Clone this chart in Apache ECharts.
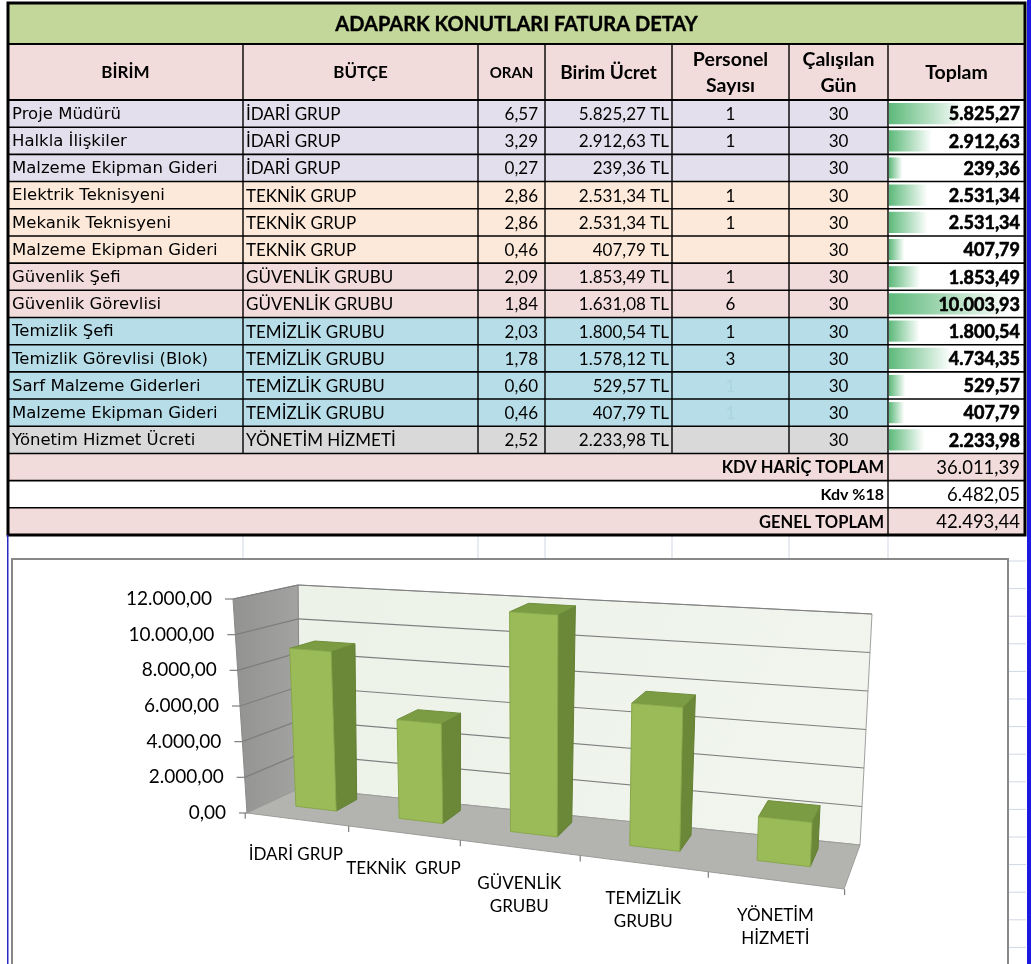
<!DOCTYPE html>
<html>
<head>
<meta charset="utf-8">
<script src="https://cdn.jsdelivr.net/npm/echarts@6.0.0/dist/echarts.min.js"></script>
<style>
html, body { margin: 0; padding: 0; background: #fff; }
#grafik { width: 1032px; height: 964px; }
</style>
</head>
<body>
<div id="grafik"></div>
<script>
// ---- tablo verisi ----
var baslik = 'ADAPARK KONUTLARI FATURA DETAY';
var sutunBasliklari = ['BİRİM', 'BÜTÇE', 'ORAN', 'Birim Ücret', 'Personel\nSayısı', 'Çalışılan\nGün', 'Toplam'];
var birimler = ['Proje Müdürü', 'Halkla İlişkiler', 'Malzeme Ekipman Gideri', 'Elektrik Teknisyeni', 'Mekanik Teknisyeni',
    'Malzeme Ekipman Gideri', 'Güvenlik Şefi', 'Güvenlik Görevlisi', 'Temizlik Şefi', 'Temizlik Görevlisi (Blok)',
    'Sarf Malzeme Giderleri', 'Malzeme Ekipman Gideri', 'Yönetim Hizmet Ücreti'];
var butceler = ['İDARİ GRUP', 'İDARİ GRUP', 'İDARİ GRUP', 'TEKNİK GRUP', 'TEKNİK GRUP', 'TEKNİK GRUP',
    'GÜVENLİK GRUBU', 'GÜVENLİK GRUBU', 'TEMİZLİK GRUBU', 'TEMİZLİK GRUBU', 'TEMİZLİK GRUBU', 'TEMİZLİK GRUBU', 'YÖNETİM HİZMETİ'];
var oranlar = [6.57, 3.29, 0.27, 2.86, 2.86, 0.46, 2.09, 1.84, 2.03, 1.78, 0.60, 0.46, 2.52];
var birimUcretler = [5825.27, 2912.63, 239.36, 2531.34, 2531.34, 407.79, 1853.49, 1631.08, 1800.54, 1578.12, 529.57, 407.79, 2233.98];
var personelSayilari = [1, 1, null, 1, 1, null, 1, 6, 1, 3, 1, 1, null];
var calisilanGunler = [30, 30, 30, 30, 30, 30, 30, 30, 30, 30, 30, 30, 30];
var toplamlar = [5825.27, 2912.63, 239.36, 2531.34, 2531.34, 407.79, 1853.49, 10003.93, 1800.54, 4734.35, 529.57, 407.79, 2233.98];
var ozetEtiketleri = ['KDV HARİÇ TOPLAM', 'Kdv %18', 'GENEL TOPLAM'];
var ozetDegerleri = [36011.39, 6482.05, 42493.44];

// ---- grafik verisi ----
var grupAdlari = ['İDARİ GRUP', 'TEKNİK  GRUP', 'GÜVENLİK\nGRUBU', 'TEMİZLİK\nGRUBU', 'YÖNETİM\nHİZMETİ'];
var grupToplamlari = [8977.26, 5470.47, 11857.42, 7472.25, 2233.98];
var eksenDegerleri = [0, 2000, 4000, 6000, 8000, 10000, 12000];
var eksenEtiketleri = ['0,00', '2.000,00', '4.000,00', '6.000,00', '8.000,00', '10.000,00', '12.000,00'];

// ---- yerlesim / stil ----
var TSOL = 8, TUST = 3, TGEN = 1017, BASLIK_ALT = 44, SATIR_UST = 100, TALT = 535;
var SUTUN = [0, 235, 470, 537, 664, 781, 880, 1017];
var grupRenkleri = {
    'İDARİ GRUP': '#E4DFEC', 'TEKNİK GRUP': '#FDE9D9', 'GÜVENLİK GRUBU': '#F2DCDB',
    'TEMİZLİK GRUBU': '#B7DEE8', 'YÖNETİM HİZMETİ': '#D9D9D9'
};
var ozetRenkleri = ['#F2DCDB', '#FFFFFF', '#F2DCDB'];
var ozetFontlari = ['bold 16.5px Lato', 'bold 16px Lato', 'bold 16.5px Lato'];
var baslikFontlari = ['bold 17px Lato', 'bold 17px Lato', 'bold 15px Lato', 'bold 19px Lato', 'bold 19.5px Lato', 'bold 19.5px Lato', 'bold 19.5px Lato'];
var solukSatirlar = [10, 11];
var SAYI_FONT = '17px Lato';

// 3B kutunun ekran kosleri (on/arka, alt/ust, sol/sag)
var KOSE = {
    fbl: [247, 813], ftl: [233, 599], fbr: [844, 889], ftr: [854, 643],
    bbl: [300, 788], btl: [298, 585], bbr: [860, 845], btr: [872, 614]
};
var KOLON_ON = 0.40, KOLON_ARKA = 0.82;

function tr(n) {
    var s = n.toFixed(2).split('.');
    s[0] = s[0].replace(/\B(?=(\d{3})+(?!\d))/g, '.');
    return s[0] + ',' + s[1];
}
function lerp(a, b, t) { return [a[0] + (b[0] - a[0]) * t, a[1] + (b[1] - a[1]) * t]; }
function proj(u, v, w) {
    var f = lerp(lerp(KOSE.fbl, KOSE.fbr, u), lerp(KOSE.ftl, KOSE.ftr, u), v);
    var b = lerp(lerp(KOSE.bbl, KOSE.bbr, u), lerp(KOSE.btl, KOSE.btr, u), v);
    return lerp(f, b, w);
}
// perspektif: saga dogru aciliyor
function egri(t) { return -0.003 + 0.832 * t + 0.172 * t * t; }

var n = birimler.length;
var satirlar = [];
for (var i = 0; i < n + ozetEtiketleri.length; i++) satirlar.push([0, i]);

var vmin = Math.min.apply(null, toplamlar), vmax = Math.max.apply(null, toplamlar);
var cubukMin = vmin - 0.125 * (vmax - vmin), cubukMax = vmax + 0.125 * (vmax - vmin);
var cubukRenk = new echarts.graphic.LinearGradient(0, 0, 1, 0, [
    { offset: 0, color: '#5DB97A' }, { offset: 1, color: '#FFFFFF' }
]);

function satirKutusu(api, i) {
    var c = api.coord([0, i]);
    var h = api.size([0, 1])[1];
    return { ust: c[1] - h / 2, h: h };
}
function sutunX(api, k) { return api.coord([SUTUN[k], 0])[0]; }

function zeminCiz(params, api) {
    var i = api.value(1);
    var r = satirKutusu(api, i);
    var renk = i < n ? grupRenkleri[butceler[i]] : ozetRenkleri[i - n];
    var sonRenk = i < n ? '#FFFFFF' : renk;
    var x0 = sutunX(api, 0), x6 = sutunX(api, 6), x7 = sutunX(api, 7);
    return { type: 'group', children: [
        { type: 'rect', shape: { x: x0, y: r.ust, width: x6 - x0, height: r.h }, style: { fill: renk } },
        { type: 'rect', shape: { x: x6, y: r.ust, width: x7 - x6, height: r.h }, style: { fill: sonRenk } }
    ] };
}

function cubukCiz(params, api) {
    var bas = api.coord([cubukMin, api.value(1)]);
    var son = api.coord([api.value(0), api.value(1)]);
    var h = api.size([0, 1])[1];
    return { type: 'rect', shape: { x: bas[0], y: bas[1] - h / 2 + 3, width: son[0] - bas[0], height: h - 6 },
        style: { fill: cubukRenk } };
}

function yaziCiz(params, api) {
    var i = api.value(1);
    var r = satirKutusu(api, i);
    var yOrta = r.ust + r.h / 2 + 1;
    var ch = [];
    function yazi(metin, x, hiza, font, renk, kalin) {
        ch.push({ type: 'text', style: { text: metin, x: x, y: yOrta, align: hiza, verticalAlign: 'middle',
            font: font, fill: renk || '#000', stroke: kalin ? '#000' : null, lineWidth: kalin ? 0.6 : 0 } });
    }
    function dikey(k) {
        var x = sutunX(api, k);
        ch.push({ type: 'line', shape: { x1: x, y1: r.ust, x2: x, y2: r.ust + r.h }, style: { stroke: '#000', lineWidth: 1.4 } });
    }
    if (i < n) {
        yazi(birimler[i], sutunX(api, 0) + 4, 'left', '16.5px "DejaVu Sans"');
        yazi(butceler[i], sutunX(api, 1) + 3, 'left', SAYI_FONT);
        yazi(tr(oranlar[i]), sutunX(api, 3) - 7, 'right', SAYI_FONT);
        yazi(tr(birimUcretler[i]) + ' TL', sutunX(api, 4) - 3, 'right', SAYI_FONT);
        if (personelSayilari[i] != null) {
            yazi(String(personelSayilari[i]), (sutunX(api, 4) + sutunX(api, 5)) / 2, 'center', SAYI_FONT,
                solukSatirlar.indexOf(i) >= 0 ? '#A9D4E1' : '#000');
        }
        yazi(String(calisilanGunler[i]), (sutunX(api, 5) + sutunX(api, 6)) / 2, 'center', SAYI_FONT);
        yazi(tr(toplamlar[i]), sutunX(api, 7) - 5, 'right', 'bold 18px Lato', '#000', true);
        for (var k = 1; k <= 6; k++) dikey(k);
    } else {
        yazi(ozetEtiketleri[i - n], sutunX(api, 6) - 4, 'right', ozetFontlari[i - n]);
        yazi(tr(ozetDegerleri[i - n]), sutunX(api, 7) - 5, 'right', '18.5px Lato');
        dikey(6);
    }
    var y2 = r.ust + r.h;
    ch.push({ type: 'line', shape: { x1: sutunX(api, 0), y1: y2, x2: sutunX(api, 7), y2: y2 }, style: { stroke: '#000', lineWidth: 1.6 } });
    return { type: 'group', children: ch };
}

function duvarCiz(params, api) {
    var cs = params.coordSys;
    var ch = [];
    function poly(pts, fill, stroke) {
        ch.push({ type: 'polygon', shape: { points: pts }, style: { fill: fill, stroke: stroke || null, lineWidth: 1 } });
    }
    function cizgi(a, b, renk, k) {
        ch.push({ type: 'line', shape: { x1: a[0], y1: a[1], x2: b[0], y2: b[1] }, style: { stroke: renk, lineWidth: k } });
    }
    poly([proj(0, 0, 1), proj(1, 0, 1), proj(1, 1, 1), proj(0, 1, 1)],
        new echarts.graphic.LinearGradient(0, 0, 1, 1, [{ offset: 0, color: '#EDF2E8' }, { offset: 1, color: '#F1F5EE' }]), '#A0A0A0');
    poly([proj(0, 0, 0), proj(0, 0, 1), proj(0, 1, 1), proj(0, 1, 0)],
        new echarts.graphic.LinearGradient(0, 0, 1, 0, [{ offset: 0, color: '#929291' }, { offset: 1, color: '#A3A3A2' }]), '#8A8A8A');
    poly([proj(0, 0, 0), proj(1, 0, 0), proj(1, 0, 1), proj(0, 0, 1)], '#B3B4AF', '#9C9C9A');
    eksenDegerleri.forEach(function (d, k) {
        var v = (cs.y + cs.height - api.coord([0, d])[1]) / cs.height;
        var on = proj(0, v, 0);
        if (k > 0) {
            cizgi(on, proj(0, v, 1), '#7E7E7E', 1.2);
            cizgi(proj(0, v, 1), proj(1, v, 1), '#7E7E7E', 1.2);
        }
        cizgi([on[0] - 8, on[1]], on, '#7E7E7E', 1.2);
        ch.push({ type: 'text', style: { text: eksenEtiketleri[k], x: on[0] - 21, y: on[1], align: 'right',
            verticalAlign: 'middle', font: '19px Lato', fill: '#000' } });
    });
    var bant = api.size([1, 0])[0] / cs.width;
    var t0 = (api.coord([0, 0])[0] - cs.x) / cs.width - bant / 2;
    for (var k = 0; k <= grupAdlari.length; k++) {
        var p = proj(egri(t0 + k * bant), 0, 0);
        cizgi(p, [p[0], p[1] + 6], '#7E7E7E', 1.2);
    }
    return { type: 'group', children: ch };
}

function kolonCiz(params, api) {
    var cs = params.coordSys;
    var p = api.coord([api.value(0), api.value(1)]);
    var t = (p[0] - cs.x) / cs.width;
    var v = (cs.y + cs.height - p[1]) / cs.height;
    var yari = api.size([1, 0])[0] / cs.width * 0.2;
    var ul = egri(t - yari), ur = egri(t + yari);
    var a = KOLON_ON, b = KOLON_ARKA;
    var alt = proj(egri(t), 0, 0);
    return { type: 'group', children: [
        { type: 'polygon', shape: { points: [proj(ur, 0, a), proj(ur, 0, b), proj(ur, v, b), proj(ur, v, a)] },
            style: { fill: '#6A8837', stroke: '#637F33', lineWidth: 1 } },
        { type: 'polygon', shape: { points: [proj(ul, v, a), proj(ur, v, a), proj(ur, v, b), proj(ul, v, b)] },
            style: { fill: '#7B9C43', stroke: '#718F3D', lineWidth: 1 } },
        { type: 'polygon', shape: { points: [proj(ul, 0, a), proj(ur, 0, a), proj(ur, v, a), proj(ul, v, a)] },
            style: { fill: '#9BBB59', stroke: '#88A84C', lineWidth: 1 } },
        { type: 'text', style: { text: grupAdlari[api.value(0)], x: alt[0], y: alt[1] + 24, align: 'center',
            verticalAlign: 'top', font: '17px Lato', lineHeight: 23, fill: '#000' } }
    ] };
}

// ---- sabit parcalar: baslik, sutun basliklari, cerceveler ----
var grafik = [];
function gx(k) { return TSOL + SUTUN[k]; }
// excel izgara cizgileri (tablo alti)
for (var k = 1; k <= 6; k++) {
    grafik.push({ type: 'line', shape: { x1: gx(k), y1: TALT, x2: gx(k), y2: 560 }, style: { stroke: '#D0D7E5', lineWidth: 1 }, z: 0 });
}
for (var y = 561; y < 964; y += 27.6) {
    grafik.push({ type: 'line', shape: { x1: 1008, y1: y, x2: 1026, y2: y }, style: { stroke: '#D0D7E5', lineWidth: 1 }, z: 0 });
}
grafik.push({ type: 'rect', shape: { x: 12, y: 559, width: 996, height: 420 }, style: { fill: '#FFFFFF', stroke: '#888888', lineWidth: 2 }, z: 0 });
grafik.push({ type: 'rect', shape: { x: 1027, y: 0, width: 4, height: 964 }, style: { fill: '#1A1AE0' }, z: 60 });
grafik.push({ type: 'rect', shape: { x: 7, y: TALT, width: 1.5, height: 964 - TALT }, style: { fill: '#2B2BC4' }, z: 60 });
grafik.push({ type: 'rect', shape: { x: TSOL, y: TUST, width: TGEN, height: BASLIK_ALT - TUST }, style: { fill: '#C4D79B' }, z: 5 });
grafik.push({ type: 'text', style: { text: baslik, x: TSOL + TGEN / 2, y: (TUST + BASLIK_ALT) / 2 + 1, align: 'center',
    verticalAlign: 'middle', font: 'bold 20px Lato', fill: '#000', stroke: '#000', lineWidth: 0.4 }, z: 6 });
grafik.push({ type: 'rect', shape: { x: TSOL, y: BASLIK_ALT, width: TGEN, height: SATIR_UST - BASLIK_ALT }, style: { fill: '#F2DCDB' }, z: 5 });
sutunBasliklari.forEach(function (m, k) {
    grafik.push({ type: 'text', style: { text: m, x: (gx(k) + gx(k + 1)) / 2, y: (BASLIK_ALT + SATIR_UST) / 2 + 1,
        align: 'center', verticalAlign: 'middle', lineHeight: 26,
        font: baslikFontlari[k], fill: '#000' }, z: 6 });
    if (k > 0) grafik.push({ type: 'line', shape: { x1: gx(k), y1: BASLIK_ALT, x2: gx(k), y2: SATIR_UST }, style: { stroke: '#000', lineWidth: 1.4 }, z: 6 });
});
grafik.push({ type: 'line', shape: { x1: TSOL, y1: BASLIK_ALT, x2: TSOL + TGEN, y2: BASLIK_ALT }, style: { stroke: '#000', lineWidth: 1.8 }, z: 6 });
grafik.push({ type: 'line', shape: { x1: TSOL, y1: SATIR_UST, x2: TSOL + TGEN, y2: SATIR_UST }, style: { stroke: '#000', lineWidth: 1.8 }, z: 6 });
grafik.push({ type: 'rect', shape: { x: TSOL, y: TUST, width: TGEN, height: TALT - TUST }, style: { fill: null, stroke: '#000', lineWidth: 3 }, z: 50 });

var chart = echarts.init(document.getElementById('grafik'));
chart.setOption({
    animation: false,
    backgroundColor: '#FFFFFF',
    grid: [
        { left: TSOL, top: SATIR_UST, width: TGEN, height: TALT - SATIR_UST },
        { left: TSOL + SUTUN[6] + 1, top: SATIR_UST, width: SUTUN[7] - SUTUN[6] - 3, height: (TALT - SATIR_UST) * n / satirlar.length },
        { left: 247, top: 599, width: 597, height: 214 }
    ],
    xAxis: [
        { gridIndex: 0, type: 'value', min: 0, max: TGEN, show: false },
        { gridIndex: 1, type: 'value', min: cubukMin, max: cubukMax, show: false },
        { gridIndex: 2, type: 'category', data: grupAdlari, show: false }
    ],
    yAxis: [
        { gridIndex: 0, type: 'category', inverse: true, data: satirlar.map(function (s) { return 'r' + s[1]; }), show: false },
        { gridIndex: 1, type: 'category', inverse: true, data: birimler.map(function (b, i) { return 'r' + i; }), show: false },
        { gridIndex: 2, type: 'value', min: 0, max: 12000, interval: 2000, show: false }
    ],
    graphic: { elements: grafik },
    series: [
        { type: 'custom', name: 'zemin', xAxisIndex: 0, yAxisIndex: 0, z: 1, clip: false, silent: true,
            renderItem: zeminCiz, data: satirlar },
        { type: 'custom', name: 'veri çubuğu', xAxisIndex: 1, yAxisIndex: 1, z: 2, clip: false, silent: true,
            renderItem: cubukCiz, data: toplamlar.map(function (v, i) { return [v, i]; }) },
        { type: 'custom', name: 'tablo', xAxisIndex: 0, yAxisIndex: 0, z: 3, clip: false, silent: true,
            renderItem: yaziCiz, data: satirlar },
        { type: 'custom', name: 'duvarlar', xAxisIndex: 2, yAxisIndex: 2, z: 2, clip: false, silent: true,
            renderItem: duvarCiz, data: [[0, 0]] },
        { type: 'custom', name: 'gruplar', xAxisIndex: 2, yAxisIndex: 2, z: 3, clip: false, silent: true,
            renderItem: kolonCiz, data: grupToplamlari.map(function (v, i) { return [i, v]; }) }
    ]
});
</script>
</body>
</html>
